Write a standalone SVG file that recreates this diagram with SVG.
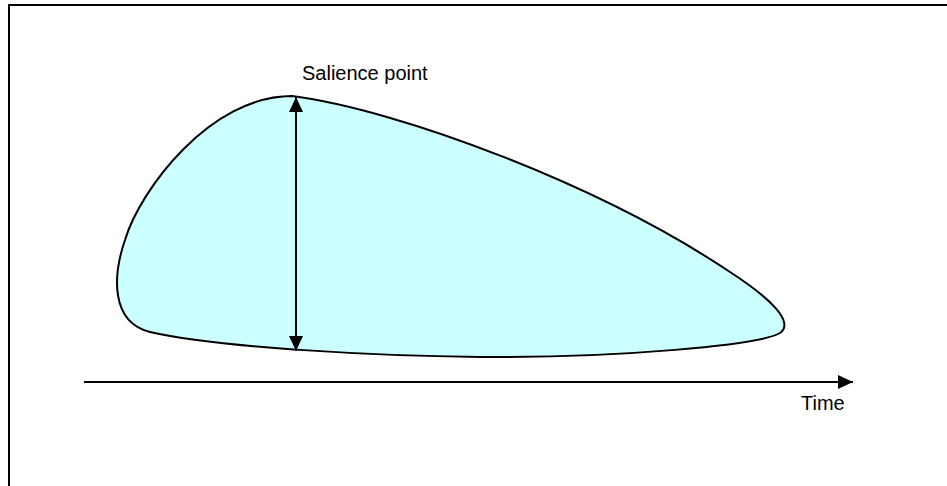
<svg xmlns="http://www.w3.org/2000/svg" width="947" height="486" viewBox="0 0 947 486">
<style>
.frame{fill:none;stroke:#000;stroke-width:2}
.shape{fill:#CCFFFF;stroke:#000;stroke-width:2}
.conn{fill:none;stroke:#000;stroke-width:2}
.lbl{font-family:"Liberation Sans",Arial,sans-serif;font-size:20px;fill:#000}
</style>
<defs>
<marker id="ah" viewBox="0 0 15 14" refX="15" refY="7" markerWidth="15" markerHeight="14" markerUnits="userSpaceOnUse" orient="auto-start-reverse">
<path d="M0,0 L15,7 L0,14 Z" fill="#000"/>
</marker>
</defs>
<rect x="0" y="0" width="947" height="486" fill="#fff"/>
<path class="frame" d="M9,490 V5 H950"/>
<g id="salience-shape">
<path class="shape" d="M292,96 C400,110 600,185 730,272 C770,298 795,322 780,333 C760,345 620,358 480,357 C380,356 220,348 150,332 C110,322 113,275 125,240 C140,190 210,96 292,96 Z"/>
</g>
<g id="connectors">
<path class="conn" d="M296,97 V351" marker-start="url(#ah)" marker-end="url(#ah)"/>
<path class="conn" d="M84,382 H853" marker-end="url(#ah)"/>
</g>
<g id="label-salience">
<text class="lbl" x="302" y="80">Salience point</text>
</g>
<g id="label-time">
<text class="lbl" x="801" y="410">Time</text>
</g>
</svg>
